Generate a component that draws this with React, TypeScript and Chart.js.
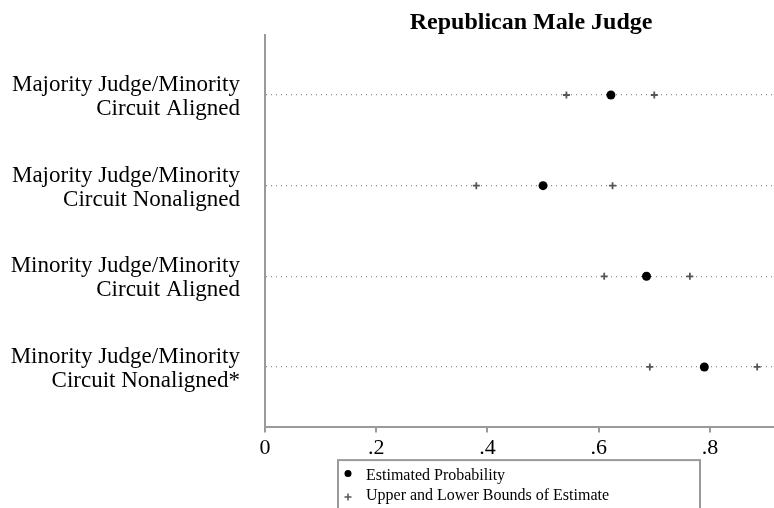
import React, { useEffect, useRef } from "react";
import { Chart, registerables } from "chart.js";

Chart.register(...registerables);

const titleText = "Republican Male Judge";
const categoryLines: string[][] = [
  ["Majority Judge/Minority", "Circuit Aligned"],
  ["Majority Judge/Minority", "Circuit Nonaligned"],
  ["Minority Judge/Minority", "Circuit Aligned"],
  ["Minority Judge/Minority", "Circuit Nonaligned*"],
];
const estimates = [0.622, 0.5, 0.686, 0.79];
const lowerBounds = [0.542, 0.38, 0.61, 0.692];
const upperBounds = [0.7, 0.625, 0.764, 0.885];
const xTickValues = [0, 0.2, 0.4, 0.6, 0.8];
const xTickLabels = ["0", ".2", ".4", ".6", ".8"];
const seriesLabels = ["Estimated Probability", "Upper and Lower Bounds of Estimate"];

const SERIF = "'Liberation Serif', 'Times New Roman', serif";
const AXIS_GRAY = "#9a9a9a";
const CROSS_GRAY = "#555555";

const boxLegend = {
  id: "boxLegend",
  afterDraw(chart: any) {
    const { ctx, chartArea } = chart;
    const left = chartArea.left + 73;
    const top = chartArea.bottom + 33.5;
    const w = 362;
    ctx.save();
    ctx.strokeStyle = AXIS_GRAY;
    ctx.lineWidth = 2;
    ctx.strokeRect(left, top, w, 80);
    ctx.font = `16px ${SERIF}`;
    ctx.fillStyle = "#000";
    ctx.textBaseline = "middle";
    ctx.textAlign = "left";
    const labels = chart.data.datasets.map((d: any) => d.label);
    ctx.beginPath();
    ctx.arc(left + 10, top + 13.5, 3.5, 0, Math.PI * 2);
    ctx.fill();
    ctx.fillText(labels[0], left + 28, top + 16);
    ctx.strokeStyle = CROSS_GRAY;
    ctx.lineWidth = 1.5;
    const cx = left + 10;
    const cy = top + 37;
    ctx.beginPath();
    ctx.moveTo(cx - 3.5, cy);
    ctx.lineTo(cx + 3.5, cy);
    ctx.moveTo(cx, cy - 3.5);
    ctx.lineTo(cx, cy + 3.5);
    ctx.stroke();
    ctx.fillText(labels[1], left + 28, top + 36);
    ctx.restore();
  },
};

export default function App() {
  const ref = useRef<HTMLCanvasElement | null>(null);

  useEffect(() => {
    if (!ref.current) return;
    const estPts = estimates.map((v, i) => ({ x: v, y: i + 1 }));
    const boundPts: { x: number; y: number }[] = [];
    lowerBounds.forEach((v, i) => boundPts.push({ x: v, y: i + 1 }));
    upperBounds.forEach((v, i) => boundPts.push({ x: v, y: i + 1 }));

    const chart = new Chart(ref.current, {
      type: "scatter",
      data: {
        datasets: [
          {
            label: seriesLabels[0],
            data: estPts,
            pointStyle: "circle",
            pointRadius: 4.5,
            backgroundColor: "#000",
            borderColor: "#000",
            borderWidth: 0,
          },
          {
            label: seriesLabels[1],
            data: boundPts,
            pointStyle: "cross",
            pointRadius: 3.5,
            borderColor: CROSS_GRAY,
            borderWidth: 1.8,
          },
        ],
      },
      options: {
        responsive: false,
        animation: false,
        layout: { padding: { left: 0, right: 0, top: 0, bottom: 45 } },
        plugins: {
          legend: { display: false },
          tooltip: { enabled: false },
          title: {
            display: true,
            text: titleText,
            fullSize: false,
            color: "#000",
            font: { family: SERIF, size: 24, weight: "bold", lineHeight: 1.0 },
            padding: { top: 11, bottom: 0 },
          },
        },
        scales: {
          x: {
            type: "linear",
            min: 0,
            max: 0.957,
            afterBuildTicks: (scale: any) => {
              scale.ticks = xTickValues.map((v) => ({ value: v }));
            },
            afterFit: (scale: any) => {
              scale.paddingLeft = 0;
              scale.paddingRight = 0;
            },
            ticks: {
              color: "#000",
              font: { family: SERIF, size: 22, lineHeight: 1.2 },
              padding: 2,
              maxRotation: 0,
              autoSkip: false,
              callback: (value: any) => {
                const idx = xTickValues.findIndex((v) => Math.abs(v - value) < 1e-9);
                return idx >= 0 ? xTickLabels[idx] : "";
              },
            },
            grid: {
              display: true,
              drawOnChartArea: false,
              drawTicks: true,
              tickLength: 6,
              color: AXIS_GRAY,
              lineWidth: 2,
            },
            border: { display: true, color: AXIS_GRAY, width: 2 },
          },
          y: {
            type: "linear",
            reverse: true,
            min: 0.338,
            max: 4.658,
            afterBuildTicks: (scale: any) => {
              scale.ticks = categoryLines.map((_, i) => ({ value: i + 1 }));
            },
            afterFit: (scale: any) => {
              scale.width = 265;
              scale.paddingTop = 0;
              scale.paddingBottom = 0;
            },
            ticks: {
              color: "#000",
              font: { family: SERIF, size: 23, lineHeight: 24 / 23 },
              padding: 25,
              labelOffset: 2,
              autoSkip: false,
              callback: (value: any) => {
                const i = Math.round(value) - 1;
                return categoryLines[i] ?? "";
              },
            },
            grid: {
              display: true,
              drawOnChartArea: true,
              drawTicks: false,
              color: "#8c8c8c",
              lineWidth: 1.2,
            },
            border: { display: true, color: AXIS_GRAY, width: 2, dash: [1, 4] },
          },
        },
      },
      plugins: [boxLegend],
    });
    return () => chart.destroy();
  }, []);

  return (
    <div
      style={{
        position: "fixed",
        left: 0,
        top: 0,
        width: 774,
        height: 508,
        overflow: "hidden",
        background: "#fff",
      }}
    >
      <canvas ref={ref} width={803} height={508} style={{ display: "block" }} />
    </div>
  );
}
